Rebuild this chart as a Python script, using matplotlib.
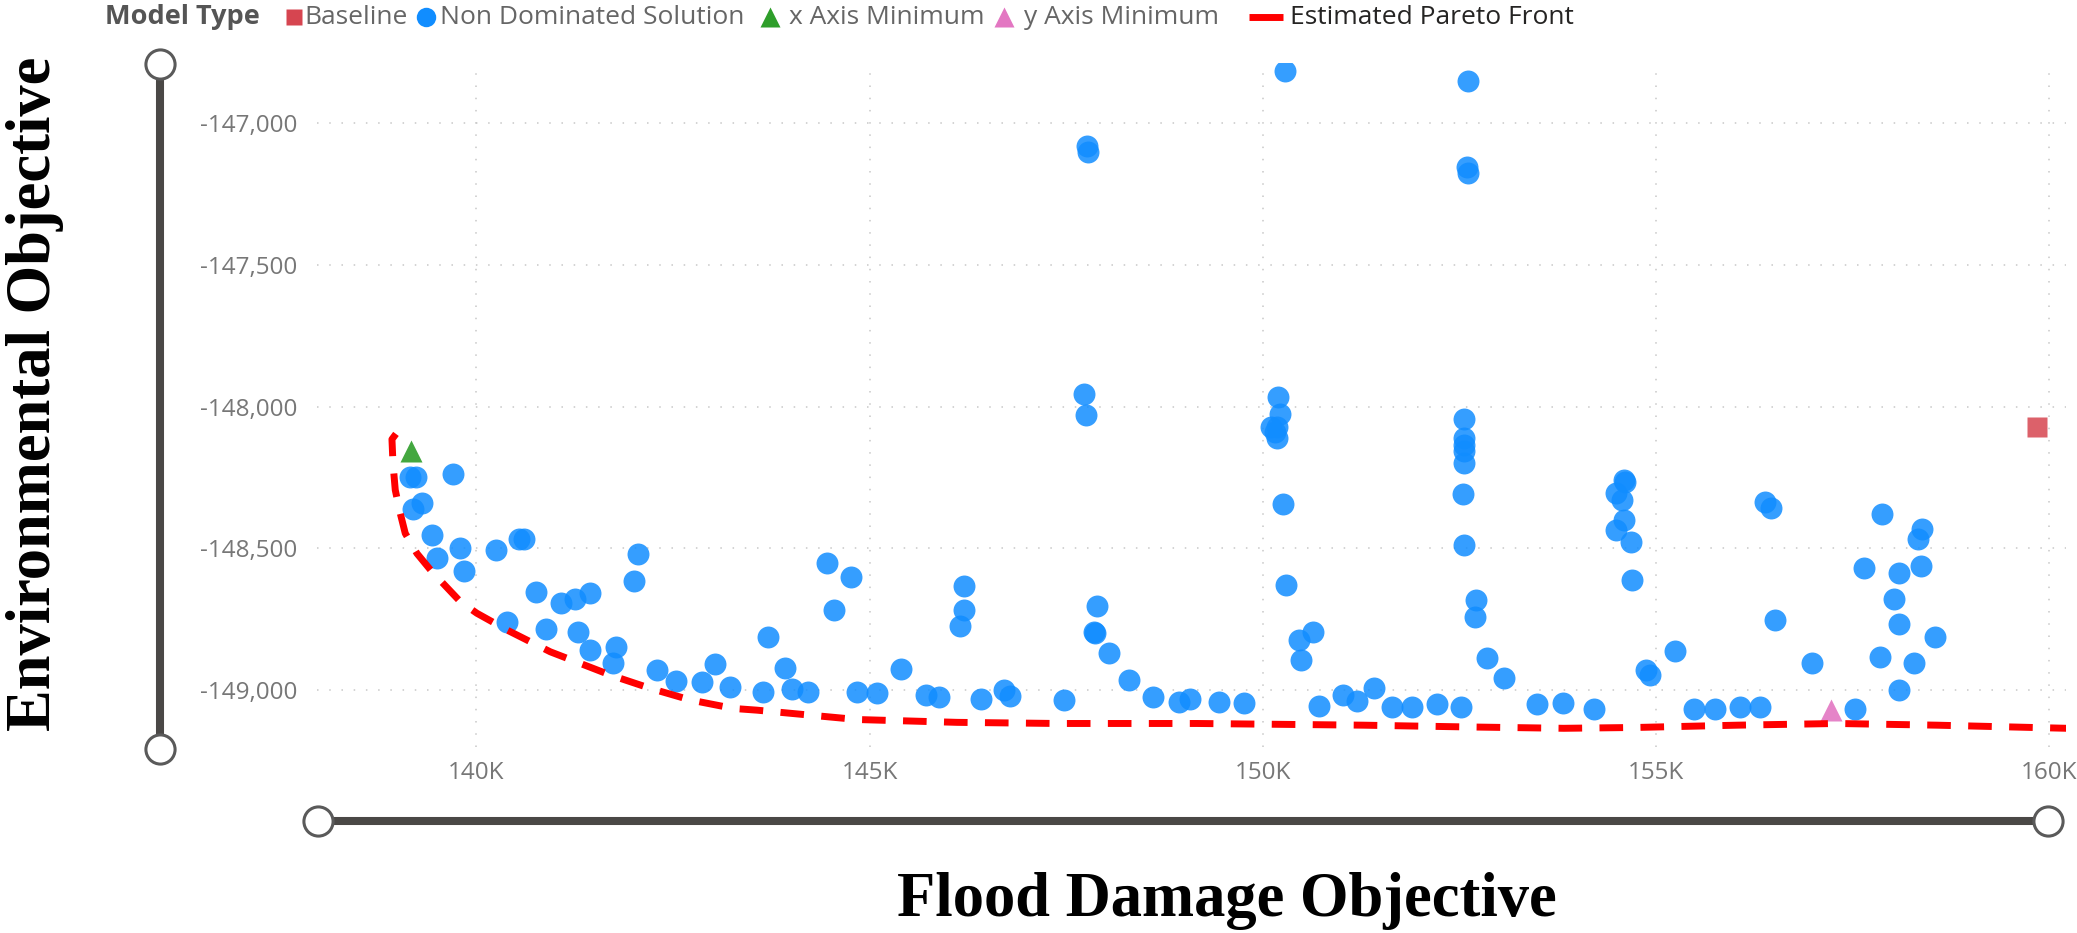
import matplotlib
matplotlib.use("Agg")
import matplotlib.pyplot as plt
from matplotlib.lines import Line2D
from matplotlib.ticker import FixedLocator, FuncFormatter

# ---------------- data ----------------
# Non dominated solutions: flood damage objective (x) vs environmental objective (y)
flood_damage = [
    139161, 139237, 139703, 139191, 139309, 139441, 139500, 139797, 139847, 140254,
    140538, 140602, 140763, 141081, 141250, 141441, 142051, 142000, 140390, 140890,
    141293, 141441, 141776, 141733, 142297, 142534, 142869, 143030, 143221, 143645,
    143709, 143929, 144014, 144213, 144459, 144764, 144544, 144840, 145095, 145400,
    145718, 145879, 146205, 146205, 146154, 146417, 146705, 146790, 147468, 147722,
    147756, 147760, 147780, 147892, 147849, 147870, 148049, 148303, 148604, 148930,
    149078, 149438, 149765, 150190, 150220, 150100, 150180, 150160, 150180, 150256,
    150299, 150283, 150456, 150638, 150490, 150710, 151015, 151197, 151409, 151642,
    151897, 152214, 152524, 152553, 152560, 152560, 152560, 152553, 152541, 152553,
    152611, 152600, 152610, 152714, 152702, 152850, 153062, 153486, 153816, 154206,
    154588, 154610, 154494, 154567, 154588, 154494, 154685, 154694, 154870, 154920,
    155244, 155477, 155753, 156071, 156325, 156389, 156461, 156516, 156982, 157533,
    157647, 157868, 157842, 158092, 158029, 158092, 158084, 158275, 158380, 158325,
    158372, 158550,
]
environmental = [
    -148249, -148249, -148238, -148361, -148339, -148453, -148533, -148497, -148580, -148504,
    -148468, -148466, -148654, -148692, -148678, -148659, -148520, -148614, -148759, -148784,
    -148794, -148859, -148848, -148904, -148930, -148968, -148971, -148908, -148988, -149006,
    -148812, -148921, -148998, -149006, -148551, -148602, -148718, -149006, -149010, -148925,
    -149018, -149024, -148633, -148718, -148774, -149030, -149000, -149020, -149035, -147955,
    -148029, -147080, -147100, -148704, -148794, -148800, -148871, -148965, -149026, -149041,
    -149030, -149041, -149045, -147965, -148024, -148071, -148071, -148090, -148112, -148345,
    -148629, -146815, -148824, -148794, -148894, -149057, -149018, -149038, -148994, -149059,
    -149059, -149050, -149061, -148045, -148112, -148135, -148155, -148200, -148308, -148488,
    -146851, -147155, -147175, -148682, -148741, -148888, -148959, -149050, -149044, -149067,
    -148257, -148265, -148304, -148329, -148400, -148435, -148477, -148612, -148930, -148947,
    -148861, -149067, -149067, -149059, -149059, -148335, -148359, -148753, -148906, -149068,
    -148571, -148377, -148882, -148588, -148680, -148768, -149000, -148906, -148433, -148468,
    -148562, -148812,
]

baseline_x, baseline_y = [159843], [-148071]
x_min_x, x_min_y = [139169], [-148155]
y_min_x, y_min_y = [157228], [-149069]

# Estimated Pareto front
front_x = [138979, 138928, 138941, 138970, 139034, 139097, 139246, 139436, 139797, 140008,
           140390, 140941, 141704, 142212, 142721, 143272, 143569, 144840, 146112, 147383,
           149163, 151282, 152553, 153825, 154757, 156028, 157300, 158571, 160224]
front_y = [-148096, -148115, -148200, -148294, -148377, -148447, -148518, -148582, -148688, -148729,
           -148788, -148865, -148947, -148994, -149035, -149065, -149071, -149104, -149114, -149118,
           -149118, -149124, -149130, -149135, -149132, -149124, -149118, -149124, -149135]

x_ticks = [140000, 145000, 150000, 155000, 160000]
y_ticks = [-147000, -147500, -148000, -148500, -149000]

legend_title = "Model Type"
legend_labels = ["Baseline", "Non Dominated Solution", "x Axis Minimum",
                 "y Axis Minimum", "Estimated Pareto Front"]

# ---------------- styling ----------------
BLUE = "#118DFF"
RED_SQ = "#D64550"
GREEN = "#2E9E2A"
PINK = "#E377C2"
FRONT = "#FF0000"
GRID = "#C8C8C8"
TICK = "#777777"
SLIDER = "#4A4846"

W, H, DPI = 2077, 933, 100
fig = plt.figure(figsize=(W / DPI, H / DPI), dpi=DPI)
fig.patch.set_facecolor("white")


def fx(px):
    return px / W


def fy(py):
    return 1 - py / H


ax = fig.add_axes([fx(317), fy(747), fx(2066) - fx(317), fy(63) - fy(747)])
ax.set_xlim(137975, 160211)
ax.set_ylim(-149201, -146787)

for s in ax.spines.values():
    s.set_visible(False)

ax.xaxis.set_major_locator(FixedLocator(x_ticks))
ax.yaxis.set_major_locator(FixedLocator(y_ticks))
ax.xaxis.set_major_formatter(FuncFormatter(lambda v, p: f"{v / 1000:.0f}K"))
ax.yaxis.set_major_formatter(FuncFormatter(lambda v, p: f"{v:,.0f}".replace("\u2212", "-")))
ax.tick_params(axis="both", length=0, labelsize=17.5, labelcolor=TICK)
ax.tick_params(axis="y", pad=14)
ax.tick_params(axis="x", pad=10)
for lab in ax.get_xticklabels() + ax.get_yticklabels():
    lab.set_fontfamily("Open Sans")

ax.grid(True, color=GRID, linewidth=1.1, linestyle=(0, (1, 7)))
ax.set_axisbelow(True)

ax.plot(flood_damage, environmental, linestyle="none", marker="o", ms=15.8,
        mfc=BLUE, mec="none", alpha=0.85, zorder=3)
ax.plot(baseline_x, baseline_y, linestyle="none", marker="s", ms=15,
        mfc=RED_SQ, mec="none", alpha=0.85, zorder=3)
ax.plot(x_min_x, x_min_y, linestyle="none", marker="^", ms=16.5,
        mfc=GREEN, mec="none", alpha=0.9, zorder=3)
ax.plot(y_min_x, y_min_y, linestyle="none", marker="^", ms=16.5,
        mfc=PINK, mec="none", alpha=0.9, zorder=3)
ax.plot(front_x, front_y, color=FRONT, lw=5, linestyle=(0, (3.4, 2.5)),
        solid_joinstyle="round", zorder=4)

# ---------------- range sliders ----------------
def slider(x0, y0, x1, y1):
    fig.add_artist(Line2D([fx(x0), fx(x1)], [fy(y0), fy(y1)], transform=fig.transFigure,
                          color=SLIDER, lw=5.8, solid_capstyle="butt", zorder=1))
    for (x, y) in ((x0, y0), (x1, y1)):
        fig.add_artist(Line2D([fx(x)], [fy(y)], transform=fig.transFigure, marker="o",
                              ms=21, mfc="white", mec="#5A5A5A", mew=2.2,
                              linestyle="none", zorder=2))


slider(160, 64, 160, 749)
slider(318, 821, 2048, 821)

# ---------------- axis titles ----------------
fig.text(fx(35), fy(394), "Environmental Objective", rotation=90, ha="center", va="center",
         fontsize=45, fontweight="bold", family="Liberation Serif", color="black")
fig.text(fx(1227), fy(916), "Flood Damage Objective", ha="center", va="baseline",
         fontsize=45, fontweight="bold", family="Liberation Serif", color="black")

# ---------------- legend ----------------
ly = fy(17)
fig.text(fx(105), ly, legend_title, ha="left", va="center", fontsize=19.5,
         fontweight="bold", family="Open Sans", color="#555555")

marker_specs = [
    dict(marker="s", ms=11, mfc=RED_SQ),
    dict(marker="o", ms=14, mfc=BLUE),
    dict(marker="^", ms=15, mfc=GREEN),
    dict(marker="^", ms=15, mfc=PINK),
]
marker_px = [294, 426, 770, 1004]
text_px = [304, 440, 789, 1024, 1290]
for spec, mx in zip(marker_specs, marker_px):
    fig.add_artist(Line2D([fx(mx)], [ly], transform=fig.transFigure, linestyle="none",
                          mec="none", **spec))
fig.add_artist(Line2D([fx(1249), fx(1283)], [ly, ly], transform=fig.transFigure,
                      color=FRONT, lw=5, solid_capstyle="butt"))
for i, (label, tx) in enumerate(zip(legend_labels, text_px)):
    fig.text(fx(tx), ly, label, ha="left", va="center", fontsize=19, family="Open Sans",
             color="#252423" if i == len(legend_labels) - 1 else "#666666")

fig.savefig("out.png", dpi=DPI, facecolor="white")
